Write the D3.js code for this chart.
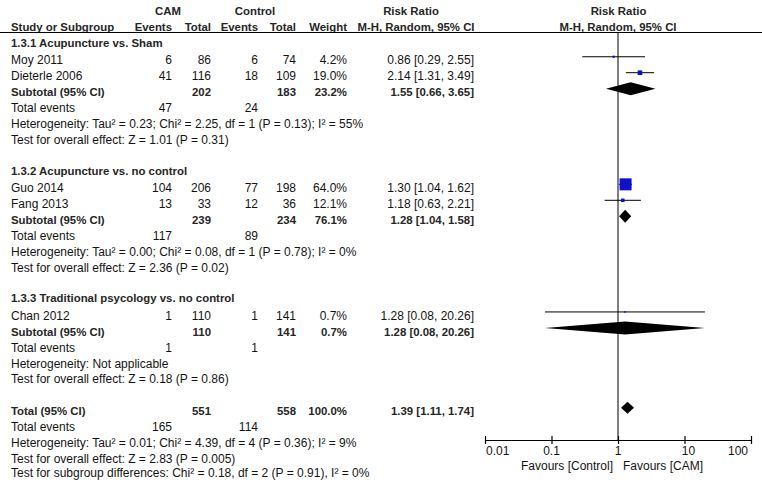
<!DOCTYPE html>
<html><head><meta charset="utf-8">
<script src="https://cdn.jsdelivr.net/npm/d3@7"></script>
<style>
html,body{margin:0;padding:0;background:#fff;}
text{font-family:"Liberation Sans",Arial,sans-serif;font-size:12px;fill:#141414;}
.b{font-weight:bold;font-size:11.4px;fill:#262626;}
</style></head>
<body>
<svg id="c" width="762" height="480"></svg>
<script>
// ---- data ----
const groupTitles = ["1.3.1 Acupuncture vs. Sham", "1.3.2 Acupuncture vs. no control", "1.3.3 Traditional psycology vs. no control"];
const studyNames = ["Moy 2011", "Dieterle 2006", "Guo 2014", "Fang 2013", "Chan 2012"];
const studyGroup = [0, 0, 1, 1, 2];
const camEvents = [6, 41, 104, 13, 1];
const camTotal = [86, 116, 206, 33, 110];
const ctrlEvents = [6, 18, 77, 12, 1];
const ctrlTotal = [74, 109, 198, 36, 141];
const studyWeight = [4.2, 19.0, 64.0, 12.1, 0.7];
const studyRR = [0.86, 2.14, 1.30, 1.18, 1.28];
const studyLow = [0.29, 1.31, 1.04, 0.63, 0.08];
const studyHigh = [2.55, 3.49, 1.62, 2.21, 20.26];

const subCamTotal = [202, 239, 110];
const subCtrlTotal = [183, 234, 141];
const subWeight = [23.2, 76.1, 0.7];
const subRR = [1.55, 1.28, 1.28];
const subLow = [0.66, 1.04, 0.08];
const subHigh = [3.65, 1.58, 20.26];
const subCamEvents = [47, 117, 1];
const subCtrlEvents = [24, 89, 1];
const subHet = ["Heterogeneity: Tau\u00b2 = 0.23; Chi\u00b2 = 2.25, df = 1 (P = 0.13); I\u00b2 = 55%",
                "Heterogeneity: Tau\u00b2 = 0.00; Chi\u00b2 = 0.08, df = 1 (P = 0.78); I\u00b2 = 0%",
                "Heterogeneity: Not applicable"];
const subTest = ["Test for overall effect: Z = 1.01 (P = 0.31)",
                 "Test for overall effect: Z = 2.36 (P = 0.02)",
                 "Test for overall effect: Z = 0.18 (P = 0.86)"];

const totCamTotal = 551, totCtrlTotal = 558, totWeight = 100.0;
const totRR = 1.39, totLow = 1.11, totHigh = 1.74;
const totCamEvents = 165, totCtrlEvents = 114;
const totHet = "Heterogeneity: Tau\u00b2 = 0.01; Chi\u00b2 = 4.39, df = 4 (P = 0.36); I\u00b2 = 9%";
const totTest = "Test for overall effect: Z = 2.83 (P = 0.005)";
const subgroupTest = "Test for subgroup differences: Chi\u00b2 = 0.18, df = 2 (P = 0.91), I\u00b2 = 0%";

const axisTicks = [0.01, 0.1, 1, 10, 100];
const axisTickLabels = ["0.01", "0.1", "1", "10", "100"];
const favourLeft = "Favours [Control]";
const favourRight = "Favours [CAM]";

// ---- layout ----
const svg = d3.select("#c");
const y = d3.scaleLinear().domain([0, 27]).range([48.5, 48.5 + 27 * 15.95]);
const x = d3.scaleLog().domain([0.01, 100]).range([485, 751]);
const sq = d3.scaleLinear().domain([0, 64]).range([1.5, 12]);
const fmtW = d3.format(".1f");
const fmtRR = d3.format(".2f");
const rrText = (r, l, h) => `${fmtRR(r)} [${fmtRR(l)}, ${fmtRR(h)}]`;
const col = {label: 11, camE: 172, camT: 211, ctrlE: 258, ctrlT: 296, w: 347, rr: 474};
const mOff = 7.7;

function txt(xp, yp, s, anchor, bold) {
  svg.append("text").attr("x", xp).attr("y", yp).attr("text-anchor", anchor || "start")
    .attr("class", bold ? "b" : null).text(s);
}

// headers
txt(168, 15, "CAM", "middle", true);
txt(255, 15, "Control", "middle", true);
txt(411, 15, "Risk Ratio", "middle", true);
txt(618.5, 15, "Risk Ratio", "middle", true);
txt(col.label, 31, "Study or Subgroup", "start", true);
txt(col.camE, 31, "Events", "end", true);
txt(col.camT, 31, "Total", "end", true);
txt(col.ctrlE, 31, "Events", "end", true);
txt(col.ctrlT, 31, "Total", "end", true);
txt(col.w, 31, "Weight", "end", true);
txt(416, 31, "M-H, Random, 95% CI", "middle", true);
txt(618, 31, "M-H, Random, 95% CI", "middle", true);

svg.append("line").attr("x1", 0).attr("x2", 762).attr("y1", 32.5).attr("y2", 32.5)
  .attr("stroke", "#000").attr("stroke-width", 1.2);

// vertical line of no effect
svg.append("line").attr("x1", x(1)).attr("x2", x(1)).attr("y1", 32).attr("y2", 440)
  .attr("stroke", "#000").attr("stroke-width", 1);

function diamond(r, l, h, cy, hh) {
  const p = [[x(l), cy], [x(r), cy - hh / 2], [x(h), cy], [x(r), cy + hh / 2]];
  svg.append("path").attr("d", "M" + p.join("L") + "Z").attr("fill", "#000");
}

let row = 0;
groupTitles.forEach((g, gi) => {
  txt(col.label, y(row) - 1.5, g, "start", true);
  row++;
  studyNames.forEach((s, si) => {
    if (studyGroup[si] !== gi) return;
    const yy = y(row);
    txt(col.label, yy, s);
    txt(col.camE, yy, camEvents[si], "end");
    txt(col.camT, yy, camTotal[si], "end");
    txt(col.ctrlE, yy, ctrlEvents[si], "end");
    txt(col.ctrlT, yy, ctrlTotal[si], "end");
    txt(col.w, yy, fmtW(studyWeight[si]) + "%", "end");
    txt(col.rr, yy, rrText(studyRR[si], studyLow[si], studyHigh[si]), "end");
    const cy = yy - mOff;
    svg.append("line").attr("x1", x(studyLow[si])).attr("x2", x(studyHigh[si]))
      .attr("y1", cy).attr("y2", cy).attr("stroke", "#000").attr("stroke-width", 1);
    const s2 = sq(studyWeight[si]);
    svg.append("rect").attr("x", x(studyRR[si]) - s2 / 2).attr("y", cy - s2 / 2)
      .attr("width", s2).attr("height", s2).attr("fill", "#1010c8");
    row++;
  });
  let yy = y(row);
  txt(col.label, yy, "Subtotal (95% CI)", "start", true);
  txt(col.camT, yy, subCamTotal[gi], "end", true);
  txt(col.ctrlT, yy, subCtrlTotal[gi], "end", true);
  txt(col.w, yy, fmtW(subWeight[gi]) + "%", "end", true);
  txt(col.rr, yy, rrText(subRR[gi], subLow[gi], subHigh[gi]), "end", true);
  diamond(subRR[gi], subLow[gi], subHigh[gi], yy - mOff, 13);
  row++;
  yy = y(row);
  txt(col.label, yy, "Total events");
  txt(col.camE, yy, subCamEvents[gi], "end");
  txt(col.ctrlE, yy, subCtrlEvents[gi], "end");
  row++;
  txt(col.label, y(row), subHet[gi]); row++;
  txt(col.label, y(row), subTest[gi]); row++;
  row++; // blank
});

// Total
let yy = y(row);
txt(col.label, yy, "Total (95% CI)", "start", true);
txt(col.camT, yy, totCamTotal, "end", true);
txt(col.ctrlT, yy, totCtrlTotal, "end", true);
txt(col.w, yy, fmtW(totWeight) + "%", "end", true);
txt(col.rr, yy, rrText(totRR, totLow, totHigh), "end", true);
diamond(totRR, totLow, totHigh, yy - mOff, 12);
row++;
yy = y(row);
txt(col.label, yy, "Total events");
txt(col.camE, yy, totCamEvents, "end");
txt(col.ctrlE, yy, totCtrlEvents, "end");
row++;
txt(col.label, y(row), totHet); row++;
txt(col.label, y(row), totTest); row++;
txt(col.label, Math.min(y(row), 476.5), subgroupTest);

// axis
const ay = 440;
const axis = svg.append("g").attr("transform", `translate(0,${ay})`)
  .call(d3.axisBottom(x).tickValues(axisTicks).tickSize(0).tickFormat(""));
axis.select(".domain").attr("stroke", "#000").attr("stroke-width", 1.2);
axis.selectAll(".tick").append("line").attr("y1", -4).attr("y2", 4).attr("stroke", "#000").attr("stroke-width", 1.2);
axisTicks.forEach((t, i) => {
  const a = i === 0 ? "start" : (i === axisTicks.length - 1 ? "end" : "middle");
  const dx = i === 0 ? 1 : (i === axisTicks.length - 1 ? -3 : (t === 10 ? 4 : 0));
  txt(x(t) + dx, 455, axisTickLabels[i], a);
});
txt(x(1) - 5, 470, favourLeft, "end");
txt(x(1) + 5, 470, favourRight, "start");
</script>
</body></html>
